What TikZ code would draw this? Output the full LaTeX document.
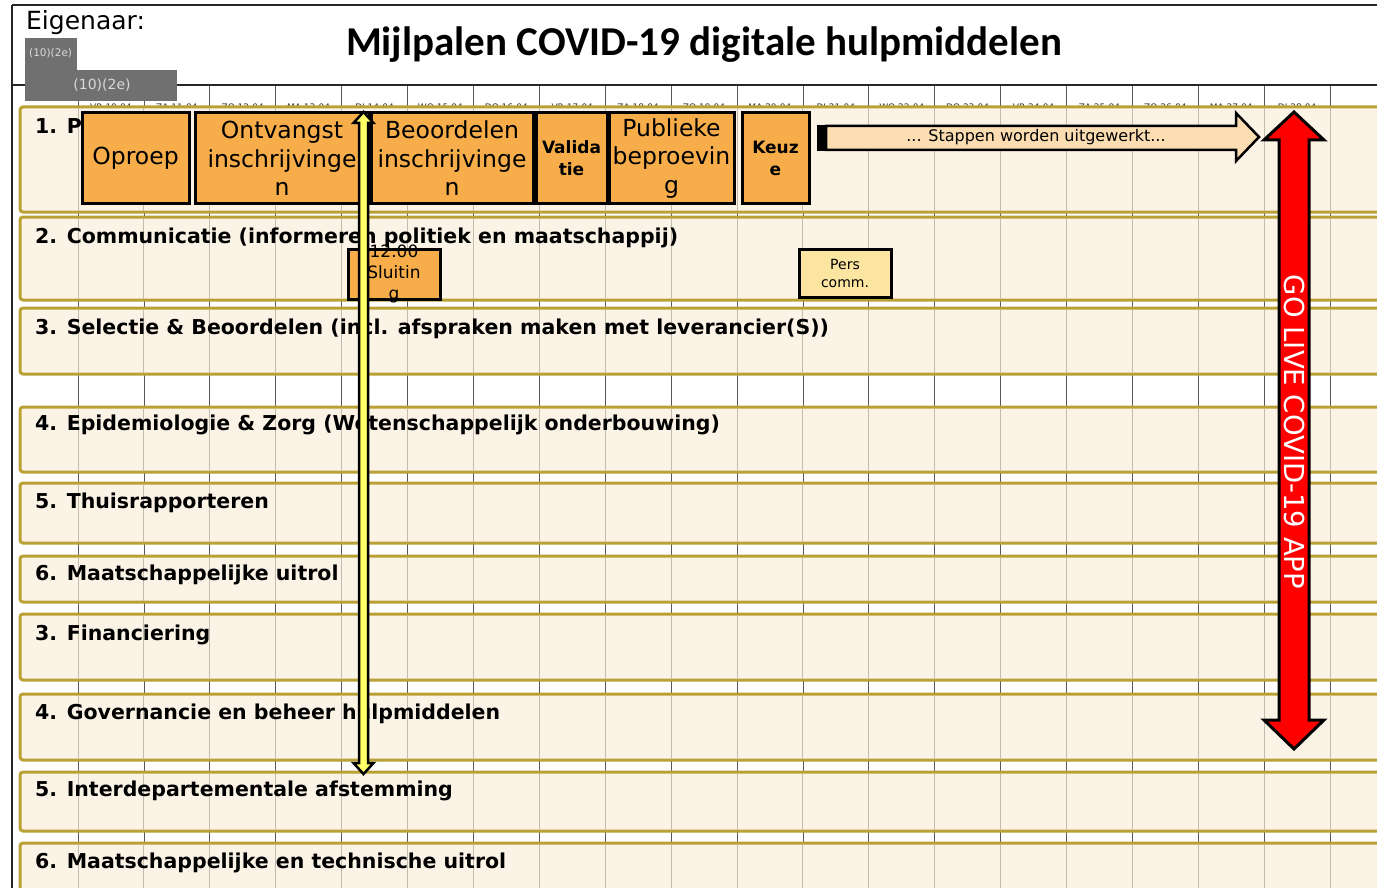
\documentclass[tikz,border=0pt]{standalone}
\usepackage{fontspec}
\setmainfont{DejaVu Sans}
\newfontfamily\titelfont{Carlito}
\usepackage{xcolor}

\definecolor{rijvul}{HTML}{FCF3E7}
\definecolor{rijrand}{HTML}{B9A135}
\definecolor{raster}{HTML}{C3BBAE}
\definecolor{oranje}{HTML}{F7AE4A}
\definecolor{perskleur}{HTML}{FCE5A0}
\definecolor{perzik}{HTML}{FCDDB2}
\definecolor{geel}{HTML}{FFFF66}
\definecolor{grijsvak}{HTML}{707070}

\tikzset{
	rij/.style={draw=rijrand, line width=3pt, fill=rijvul, rounded corners=3pt},
	rijlabel/.style={anchor=base west, inner sep=0pt, font=\fontsize{20.5}{24}\selectfont\bfseries},
	blok/.style={draw=black, line width=3pt, fill=oranje, inner sep=0pt},
	bloktekst/.style={align=center, inner sep=0pt, font=\fontsize{23.5}{28.5}\selectfont},
	datum/.style={inner sep=0pt, text=black!80, font=\fontsize{9}{10}\selectfont},
}

\begin{document}
\begin{tikzpicture}[x=1pt, y=-1pt]
		\useasboundingbox (0,0) rectangle (1377,888);
		\clip (0,0) rectangle (1377,888);
		\fill [white] (0,0) rectangle (1377,888);
		% kolommen en kop
		\foreach \i in {0,...,19}
			\draw [black!65, line width=0.8pt] ({78+65.9*\i},85) -- ({78+65.9*\i},888);
		\draw [black!85, line width=2pt] (12,5) -- (1400,5);
		\draw [black!85, line width=2.5pt] (12,5) -- (12,888);
		\draw [black!85, line width=1.5pt] (12,85) -- (1400,85);
		\foreach \d [count=\i from 0] in {VR 10-04, ZA 11-04, ZO 12-04, MA 13-04, DI 14-04, WO 15-04, DO 16-04, VR 17-04, ZA 18-04, ZO 19-04, MA 20-04, DI 21-04, WO 22-04, DO 23-04, VR 24-04, ZA 25-04, ZO 26-04, MA 27-04, DI 28-04}
			\node [datum] (d\i) at ({78+65.9*\i+32.95},107.5) {\d};
		% rijen
		\foreach \top/\bot/\ly/\naam/\tekst in {
				107/212/127/r1/{1. P},
				217/300/236/r2/{2. Communicatie (informeren politiek en maatschappij)},
				308/374/327/r3/{3. Selectie \& Beoordelen (incl. afspraken maken met leverancier(S))},
				407/472/423/r4/{4. Epidemiologie \& Zorg (Wetenschappelijk onderbouwing)},
				483/543/501/r5/{5. Thuisrapporteren},
				556/602/573/r6/{6. Maatschappelijke uitrol},
				614/680/633/r7/{3. Financiering},
				694/760/712/r8/{4. Governancie en beheer hulpmiddelen},
				772/831/789/r9/{5. Interdepartementale afstemming},
				843/920/861/r10/{6. Maatschappelijke en technische uitrol}}{
			\draw [rij] (20,\top) rectangle (1420,\bot);
			\foreach \i in {0,...,19}
				\draw [raster, line width=0.9pt] ({78+65.9*\i},\top+1.5) -- ({78+65.9*\i},\bot-1.5);
			\node [rijlabel] (\naam) at (35,\ly+7) {\tekst};
		}
		% kop links en titel
		\fill [grijsvak] (25,38) rectangle (77,70);
		\fill [grijsvak] (25,70) rectangle (177,101);
		\node [anchor=west, inner sep=0pt, text=black!15, font=\fontsize{10.5}{12}\selectfont] (eig1) at (29,53) {(10)(2e)};
		\node [inner sep=0pt, text=black!15, font=\fontsize{14}{16}\selectfont] (eig2) at (102,85) {(10)(2e)};
		\node [anchor=base west, inner sep=0pt, font=\fontsize{25}{30}\selectfont] (eigenaar) at (26,30) {Eigenaar:};
		\node [inner sep=0pt, font=\titelfont\fontsize{41}{48}\selectfont\bfseries] (titel) at (704,45) {Mijlpalen COVID-19 digitale hulpmiddelen};
		% mijlpalen rij 1
		\node [blok, minimum width=107pt, minimum height=91pt] (oproep) at (135.5,158.5) {};
		\node [bloktekst] at (oproep) {Oproep};
		\node [blok, minimum width=174pt, minimum height=91pt] (ontvangst) at (282,158.5) {};
		\node [bloktekst] at (ontvangst) {Ontvangst\\inschrijvinge\\n};
		\node [blok, minimum width=162pt, minimum height=91pt] (beoordelen) at (452,158.5) {};
		\node [bloktekst] at (beoordelen) {Beoordelen\\inschrijvinge\\n};
		\node [blok, minimum width=71pt, minimum height=91pt] (validatie) at (571.5,158.5) {};
		\node [bloktekst, font=\fontsize{17}{22}\selectfont\bfseries] at (validatie) {Valida\\tie};
		\node [blok, minimum width=125pt, minimum height=91pt] (publieke) at (671.5,158.5) {};
		\node [bloktekst] at (publieke) {Publieke\\beproevin\\g};
		\node [blok, minimum width=67pt, minimum height=91pt] (keuze) at (775.5,158.5) {};
		\node [bloktekst, font=\fontsize{17}{22}\selectfont\bfseries] at (keuze) {Keuz\\e};
		% pijl stappen
		\filldraw [fill=perzik, draw=black, line width=2.5pt, line join=miter] (826,126) -- (1236,126) -- (1236,113) -- (1259,137) -- (1236,161) -- (1236,150) -- (826,150) -- cycle;
		\fill [black] (817,125) rectangle (827,151);
		\node [inner sep=0pt, font=\fontsize{16}{19}\selectfont] (stappen) at (1036,137) {... Stappen worden uitgewerkt...};
		% rij 2
		\node [blok, fill=perskleur, minimum width=92pt, minimum height=48pt] (pers) at (845,273) {};
		\node [bloktekst, font=\fontsize{14}{18}\selectfont] at (pers) {Pers\\comm.};
		\node [blok, minimum width=92pt, minimum height=50pt] (sluiting) at (394,274) {};
		\node [bloktekst, font=\fontsize{17}{21}\selectfont] at (sluiting) {12.00\\Sluitin\\g};
		% gele pijl
		\filldraw [fill=geel, draw=black, line width=2.5pt, line join=miter] (363.5,112) -- (373.5,123) -- (368,123) -- (368,763) -- (373.5,763) -- (363.5,774) -- (353.5,763) -- (359,763) -- (359,123) -- (353.5,123) -- cycle;
		% go live
		\filldraw [fill=red, draw=black, line width=3pt, line join=miter] (1294,112) -- (1324,140) -- (1309,140) -- (1309,720) -- (1324,720) -- (1294,749) -- (1264,720) -- (1279,720) -- (1279,140) -- (1264,140) -- cycle;
		\node [rotate=-90, inner sep=0pt, text=white, font=\fontsize{27.5}{32}\selectfont] (golive) at (1294,432) {GO LIVE COVID-19 APP};
	\end{tikzpicture}
\end{document}
